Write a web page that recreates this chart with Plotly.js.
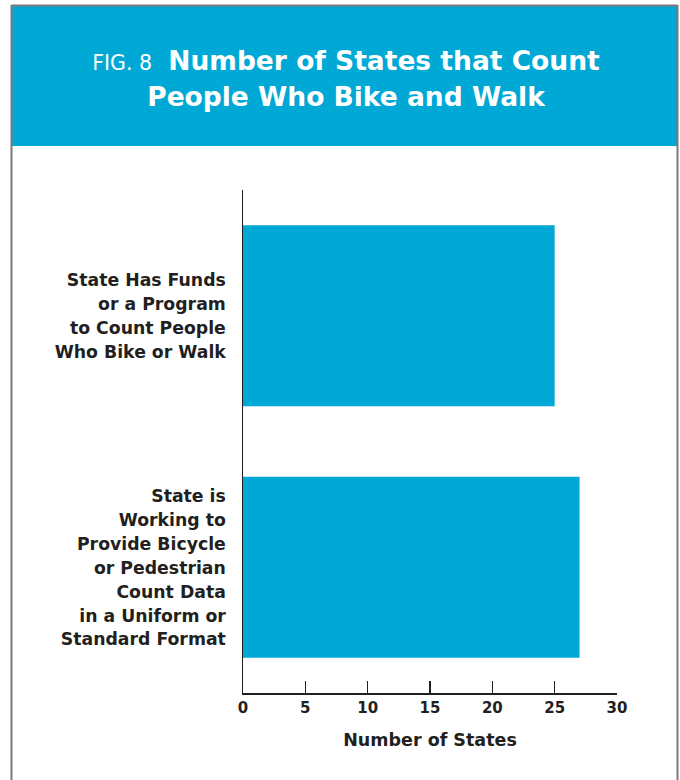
<!DOCTYPE html>
<html>
<head>
<meta charset="utf-8">
<script src="https://cdn.plot.ly/plotly-3.0.1.min.js"></script>
<style>
html,body{margin:0;padding:0;background:#fff;}
#chart{width:680px;height:780px;}
</style>
</head>
<body>
<div id="chart"></div>
<script>
const categoryLines = [
  ["State Has Funds", "or a Program", "to Count People", "Who Bike or Walk"],
  ["State is", "Working to", "Provide Bicycle", "or Pedestrian", "Count Data", "in a Uniform or", "Standard Format"]
];
const values = [25, 27];
const xTicks = [0, 5, 10, 15, 20, 25, 30];

const categories = categoryLines.map(ls => ls.join(' '));
const labelText = categoryLines.map(ls => ls.map(s => '<span style="font-size:17.3px">' + s + '</span>').join('<br>'));

const W = 680, H = 780;
const M = {l: 243, r: 63, t: 190, b: 87};
const pw = W - M.l - M.r, ph = H - M.t - M.b;
const px = x => (x - M.l) / pw;
const py = y => (H - M.b - y) / ph;

const blue = '#00A9D5';
const dark = '#231f20';
const font = '"DejaVu Sans", Verdana, sans-serif';

const trace = {
  type: 'bar',
  orientation: 'h',
  y: categories,
  x: values,
  width: 0.72,
  marker: {color: blue},
  hoverinfo: 'x'
};

const layout = {
  width: W, height: H,
  margin: M,
  paper_bgcolor: '#fff',
  plot_bgcolor: '#fff',
  showlegend: false,
  font: {family: font, color: dark},
  title: {
    text: '<span style="font-size:20.5px;font-weight:normal">FIG. 8 </span> <span style="font-size:26.5px">Number of States that Count</span><br><span style="font-size:26.5px">People Who Bike and Walk</span>',
    font: {family: font, size: 27.7, color: '#ffffff', weight: 'bold'},
    x: 346 / W, xanchor: 'center',
    y: 1 - 70 / H, yanchor: 'middle',
    xref: 'container', yref: 'container'
  },
  xaxis: {
    range: [0, 30],
    tickvals: xTicks,
    ticktext: xTicks.map(String),
    ticks: 'inside', ticklen: 12, tickwidth: 1.5, tickcolor: dark,
    showline: true, linecolor: dark, linewidth: 1.5,
    showgrid: false, zeroline: false,
    tickfont: {family: font, size: 15, color: dark, weight: 'bold'},
    title: {text: 'Number of States', font: {family: font, size: 17.5, color: dark, weight: 'bold'}, standoff: 18},
    fixedrange: true
  },
  yaxis: {
    type: 'category',
    autorange: false,
    range: [1.5, -0.5],
    tickvals: categories,
    ticktext: labelText,
    showline: true, linecolor: dark, linewidth: 1.5,
    ticks: '', showgrid: false, zeroline: false,
    ticklabelstandoff: 12,
    tickfont: {family: font, size: 18.4, color: dark, weight: 'bold'},
    fixedrange: true
  },
  shapes: [
    {type: 'rect', xref: 'paper', yref: 'paper', x0: px(12), x1: px(677), y0: py(146), y1: py(6),
     fillcolor: blue, line: {width: 0}, layer: 'below'},
    {type: 'line', xref: 'paper', yref: 'paper', x0: px(11.5), x1: px(11.5), y0: py(5), y1: py(790),
     line: {color: '#7a7a7a', width: 2}},
    {type: 'line', xref: 'paper', yref: 'paper', x0: px(677.5), x1: px(677.5), y0: py(5), y1: py(790),
     line: {color: '#7a7a7a', width: 2}},
    {type: 'line', xref: 'paper', yref: 'paper', x0: px(11.5), x1: px(677.5), y0: py(5.5), y1: py(5.5),
     line: {color: '#7a7a7a', width: 2}}
  ]
};

Plotly.newPlot('chart', [trace], layout, {displayModeBar: false, staticPlot: true});
</script>
</body>
</html>
